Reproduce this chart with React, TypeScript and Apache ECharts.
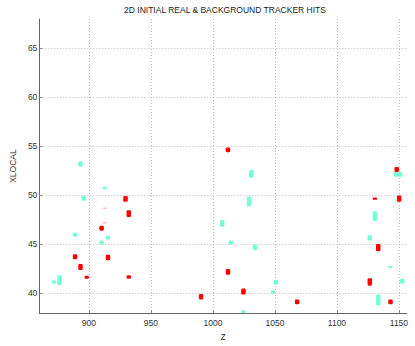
import React, { useEffect, useRef } from "react";
import * as echarts from "echarts";

const TITLE = "2D INITIAL REAL & BACKGROUND TRACKER HITS";
const X_NAME = "Z";
const Y_NAME = "XLOCAL";

// Real hits (red): z position, low and high XLOCAL
const realZ = [929.5, 932.1, 912.8, 912.8, 910.2, 888.8, 915.4, 893.2, 898.2, 932.1, 1012.1, 1012.1, 1024.6, 990.4, 1067.9, 1148.2, 1150.2, 1130.6, 1133.3, 1126.5, 1143.2];
const realLo = [49.35, 47.8, 48.65, 47.15, 46.4, 43.5, 43.4, 42.4, 41.5, 41.5, 54.4, 41.9, 39.9, 39.4, 38.9, 52.4, 49.35, 49.55, 44.3, 40.8, 38.9];
const realHi = [49.95, 48.5, 48.75, 47.25, 46.9, 44.0, 43.95, 43.0, 41.8, 41.85, 54.9, 42.5, 40.5, 39.95, 39.4, 52.9, 50.0, 49.8, 45.05, 41.55, 39.4];

// Background hits (aquamarine)
const bkgZ = [893.2, 912.8, 895.8, 888.8, 915.4, 910.2, 871.8, 876.3, 1030.9, 1029.1, 1007.4, 1014.4, 1024.6, 1034.0, 1050.7, 1048.4, 1147.5, 1151.0, 1130.6, 1126.5, 1143.2, 1152.6, 1133.3];
const bkgLo = [52.95, 50.6, 49.45, 45.8, 45.5, 45.0, 41.0, 40.85, 51.8, 48.9, 46.8, 45.0, 38.0, 44.4, 40.9, 40.0, 51.9, 51.9, 47.4, 45.4, 42.6, 41.0, 38.8];
const bkgHi = [53.5, 50.9, 49.95, 46.2, 45.9, 45.4, 41.35, 41.85, 52.6, 49.9, 47.5, 45.4, 38.3, 45.0, 41.4, 40.3, 52.4, 52.4, 48.4, 45.95, 42.8, 41.5, 39.9];

const X_MIN = 860;
const X_MAX = 1156.5;
const Y_MIN = 38;
const Y_MAX = 68;

const RED = "#ff0000";
const AQUA = "#74ffd6";

function makeRender(color: string) {
  return (params: any, api: any) => {
    const z = api.value(0);
    const lo = api.value(1);
    const hi = api.value(2);
    const top = api.coord([z, hi]);
    const bot = api.coord([z, lo]);
    const raw = bot[1] - top[1];
    const faint = raw < 1.5;
    const w = faint ? 3.5 : 4.5;
    const h = Math.max(raw, 1);
    return {
      type: "rect",
      shape: { x: top[0] - w / 2, y: top[1], width: w, height: h, r: faint ? 0 : 1.3 },
      style: { fill: color, opacity: faint ? 0.4 : 1 },
    };
  };
}

export default function App() {
  const ref = useRef<HTMLDivElement>(null);
  useEffect(() => {
    if (!ref.current) return;
    const chart = echarts.init(ref.current, undefined, { renderer: "svg" });
    const realData = realZ.map((z, i) => [z, realLo[i], realHi[i]]);
    const bkgData = bkgZ.map((z, i) => [z, bkgLo[i], bkgHi[i]]);
    const font = "'Liberation Sans', Arial, Helvetica, sans-serif";
    const fmt = (v: number) => String(v);
    chart.setOption({
      animation: false,
      backgroundColor: "#ffffff",
      textStyle: { fontFamily: font },
      title: {
        text: TITLE,
        left: 220,
        textAlign: "center",
        top: 0,
        textStyle: { fontSize: 8.5, fontWeight: "normal", color: "#222", fontFamily: font },
      },
      grid: { left: 28.5, right: 8, top: 19, bottom: 25, containLabel: false },
      xAxis: {
        type: "value",
        min: X_MIN,
        max: X_MAX,
        name: X_NAME,
        nameLocation: "middle",
        nameGap: 17,
        nameTextStyle: { fontSize: 8.5, color: "#333", fontFamily: font },
        axisLine: { show: true, lineStyle: { color: "#666", width: 1 } },
        axisTick: { show: true, inside: true, length: 3, lineStyle: { color: "#888" } },
        axisLabel: { fontSize: 8.5, color: "#333", margin: 5, showMinLabel: false, showMaxLabel: false, fontFamily: font, formatter: fmt },
        splitLine: { show: true, showMinLine: false, showMaxLine: false, lineStyle: { color: "#bbb", type: [1, 2], width: 1 } },
      },
      yAxis: {
        type: "value",
        min: Y_MIN,
        max: Y_MAX,
        name: Y_NAME,
        nameLocation: "middle",
        nameGap: 16,
        nameRotate: 90,
        nameTextStyle: { fontSize: 8.5, color: "#333", fontFamily: font },
        axisLine: { show: true, lineStyle: { color: "#666", width: 1 } },
        axisTick: { show: true, inside: true, length: 3, lineStyle: { color: "#888" } },
        axisLabel: { fontSize: 8.5, color: "#333", margin: 2, showMinLabel: false, showMaxLabel: false, fontFamily: font, formatter: fmt },
        splitLine: { show: true, showMinLine: false, showMaxLine: false, lineStyle: { color: "#bbb", type: [1, 2], width: 1 } },
      },
      series: [
        {
          type: "custom",
          name: "Background",
          renderItem: makeRender(AQUA),
          encode: { x: 0, y: [1, 2] },
          data: bkgData,
          clip: true,
        },
        {
          type: "custom",
          name: "Real",
          renderItem: makeRender(RED),
          encode: { x: 0, y: [1, 2] },
          data: realData,
          clip: true,
        },
      ],
    });
    return () => chart.dispose();
  }, []);
  return <div ref={ref} style={{ width: 415, height: 346, position: "absolute", left: 0, top: 0 }} />;
}
